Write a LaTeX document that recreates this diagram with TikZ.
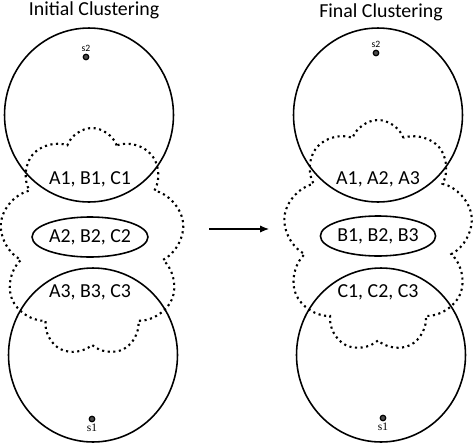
\documentclass[tikz,border=0pt]{standalone}
\usepackage{fontspec}
\setmainfont{Carlito}
\newfontfamily\seedserif{Liberation Serif}
\usetikzlibrary{shapes.geometric,shapes.symbols,arrows.meta}

\begin{document}
\begin{tikzpicture}[x=0.02cm, y=-0.02cm,
    site/.style={ellipse, draw, line width=0.9pt, minimum width=3.38cm, minimum height=3.48cm, inner sep=0pt},
    core/.style={ellipse, draw, line width=0.9pt, minimum width=2.04cm, minimum height=0.8cm, inner sep=0pt, font=\fontsize{11.3}{13}\selectfont},
    group/.style={font=\fontsize{11.3}{13}\selectfont},
    haze/.style={cloud, draw, dotted, line width=1.2pt, cloud puffs=9, cloud puff arc=140, cloud ignores aspect},
    seed/.style={circle, draw, line width=0.7pt, fill=black!70, minimum size=0.11cm, inner sep=0pt},
    title/.style={font=\fontsize{11.3}{13}\selectfont}]

  \useasboundingbox (0,0) rectangle (474,444);

  % Initial clustering
  \node[title] (Ttitle) at (94,10) {Initial Clustering};
  \node[haze, minimum width=3.7cm, minimum height=4.56cm] (Lcloud) at (92,242) {};
  \node[site] (Ltop) at (89,115) {};
  \node[site] (Lbot) at (93,355) {};
  \node[core] (Lmid) at (90,237) {A2, B2, C2};
  \node[group] (Lupper) at (90,179) {A1, B1, C1};
  \node[group] (Llower) at (90,292) {A3, B3, C3};
  \node[seed, label={[font=\fontsize{5.5}{6}\selectfont, inner sep=1pt]above:s2}] (Ls2) at (86,57) {};
  \node[seed, label={[font=\seedserif\fontsize{6.5}{7}\selectfont, inner sep=0.5pt]below:s1}] (Ls1) at (92,419) {};

  % Final clustering
  \node[title] (Ftitle) at (381,12) {Final Clustering};
  \node[haze, minimum width=3.8cm, minimum height=4.64cm] (Rcloud) at (378,236) {};
  \node[site] (Rtop) at (378,115) {};
  \node[site] (Rbot) at (381,355) {};
  \node[core] (Rmid) at (378,236) {B1, B2, B3};
  \node[group] (Rupper) at (378,179) {A1, A2, A3};
  \node[group] (Rlower) at (378,292) {C1, C2, C3};
  \node[seed, label={[font=\fontsize{5.5}{6}\selectfont, inner sep=1pt]above:s2}] (Rs2) at (376,53) {};
  \node[seed, label={[font=\seedserif\fontsize{6.5}{7}\selectfont, inner sep=0.5pt]below:s1}] (Rs1) at (383,418) {};

  % Arrow
  \coordinate (from) at (209,229);
  \coordinate (to) at (269,229);
  \draw[-{Latex[length=5pt,width=4pt]}, line width=0.6pt] (from) -- (to);

\end{tikzpicture}
\end{document}
